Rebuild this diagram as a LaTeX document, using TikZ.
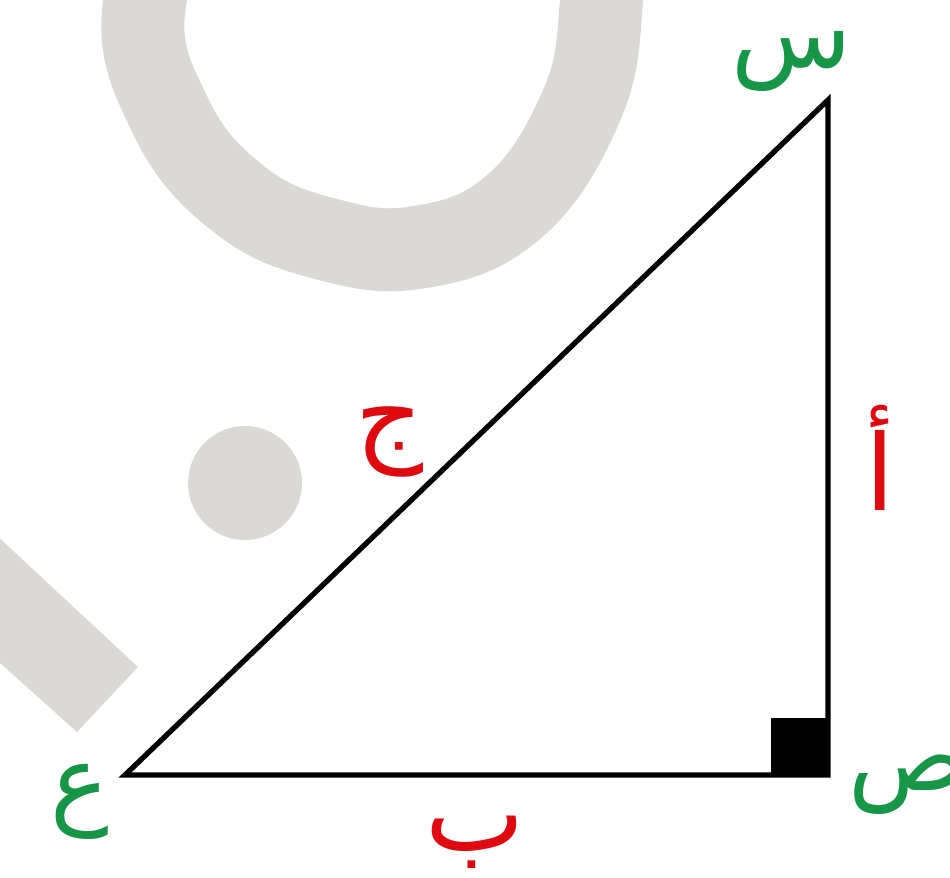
\documentclass[tikz,border=0pt]{standalone}
\usepackage{fontspec}
\usepackage{xcolor}
\usepackage{tikz}
\TeXXeTstate=1
\newfontfamily\arabicfont[Script=Arabic]{DejaVu Sans}
\definecolor{wmGray}{RGB}{219,217,213}
\definecolor{ptGreen}{RGB}{24,150,72}
\definecolor{sdRed}{RGB}{222,10,16}

\begin{document}
\begin{tikzpicture}[
    vertexname/.style={font=\arabicfont\fontsize{28}{34}\selectfont, text=ptGreen, inner sep=0pt},
    sidename/.style={font=\arabicfont\fontsize{30}{36}\selectfont, text=sdRed, inner sep=0pt},
    edge/.style={draw=black, line width=1.5pt}
  ]
    \useasboundingbox (0,0) rectangle (9.5,-8.78);
    \clip (0,0) rectangle (9.5,-8.78);
    % watermark in the background
    \draw[wmGray, line width=0.83cm] plot[smooth cycle, tension=0.7] coordinates {
      (1.45,0) (1.70,-1.15) (2.40,-2.00) (3.30,-2.40) (4.20,-2.47)
      (5.10,-2.10) (5.75,-1.20) (6.00,-0.20) (5.90,1.00) (5.00,2.00)
      (3.50,2.20) (2.10,1.40)};
    \fill[wmGray] (2.45,-4.83) circle (0.57);
    \fill[wmGray] (-0.20,-5.20) -- (1.38,-6.67) -- (0.77,-7.32) -- (-0.20,-6.45) -- cycle;
    % triangle
    \coordinate (s) at (8.28,-1.00);
    \coordinate (p) at (8.28,-7.75);
    \coordinate (a) at (1.25,-7.75);
    \draw[edge] (s) -- (p) -- (a) -- cycle;
    \fill ([xshift=-0.57cm]p) rectangle ([yshift=0.57cm]p);
    % vertex names
    \node[vertexname] (sLbl) at (7.92,-0.62) {\beginR س\endR};
    \node[vertexname] (pLbl) at (9.08,-7.85) {\beginR ص\endR};
    \node[vertexname] (aLbl) at (0.80,-8.02) {\beginR ع\endR};
    % side names
    \node[sidename] (hyp) at (3.90,-4.42) {\beginR ج\endR};
    \node[sidename] (vert) at (8.80,-4.58) {\beginR أ\endR};
    \node[sidename] (base) at (4.75,-8.42) {\beginR ب\endR};
  \end{tikzpicture}
\end{document}
